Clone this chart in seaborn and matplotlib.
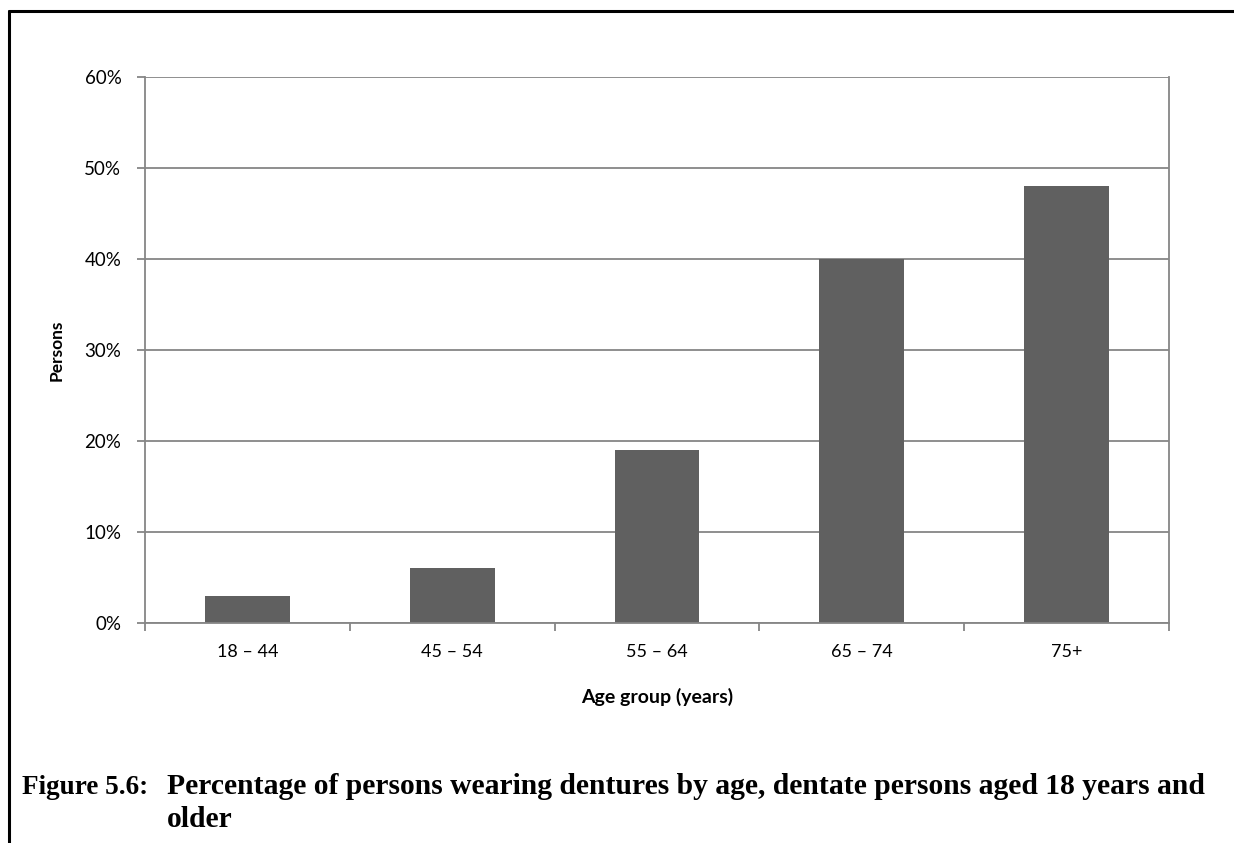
import matplotlib
matplotlib.use("Agg")
import matplotlib.pyplot as plt
import seaborn as sns
import pandas as pd
from matplotlib.lines import Line2D
from matplotlib.ticker import FuncFormatter, FixedLocator

categories = ["18 – 44", "45 – 54", "55 – 64", "65 – 74", "75+"]
values = [3.0, 6.0, 19.0, 40.0, 48.0]
yticks = [0, 10, 20, 30, 40, 50, 60]

sns.set_theme(style="white")
plt.rcParams["font.family"] = ["Lato", "DejaVu Sans"]

W, H = 1234, 843
fig = plt.figure(figsize=(W / 100, H / 100), dpi=100)
ax = fig.add_axes([145 / W, 1 - 623 / H, (1169 - 145) / W, (623 - 77) / H])

df = pd.DataFrame({"age": categories, "pct": values})
sns.barplot(data=df, x="age", y="pct", color="#606060", saturation=1,
            width=0.415, ax=ax, edgecolor="none")

grid_c = "#868686"
ax.set_ylim(0, 60)
ax.set_xlim(-0.5, len(categories) - 0.5)
ax.set_yticks(yticks)
ax.yaxis.set_major_formatter(FuncFormatter(lambda v, p: f"{int(v)}%"))
ax.grid(axis="y", color=grid_c, linewidth=1.3)
ax.set_axisbelow(True)
for s in ["left", "bottom", "right"]:
    ax.spines[s].set_visible(True)
    ax.spines[s].set_color(grid_c)
    ax.spines[s].set_linewidth(1.3)
ax.spines["top"].set_visible(False)

ax.set_xticks(range(len(categories)))
ax.set_xticklabels(categories)
ax.xaxis.set_minor_locator(FixedLocator([i - 0.5 for i in range(len(categories) + 1)]))
ax.tick_params(axis="x", which="major", length=0, pad=15, labelsize=13, colors="black")
ax.tick_params(axis="x", which="minor", length=6, width=1.3, color=grid_c, bottom=True)
ax.tick_params(axis="y", length=6, width=1.3, color=grid_c, left=True, pad=11,
               labelsize=13.5, labelcolor="black")
for lbl in ax.get_xticklabels() + ax.get_yticklabels():
    lbl.set_color("black")

ax.set_xlabel("Age group (years)", fontsize=14, fontweight="bold", labelpad=20, color="black")
ax.set_ylabel("Persons", fontsize=12.5, fontweight="bold", labelpad=14, color="black")

cap_font = ["Liberation Serif", "DejaVu Serif"]
fig.text(22 / W, 1 - 794 / H, "Figure 5.6:", family=cap_font, fontweight="bold",
         fontsize=19.5, color="black", va="baseline")
fig.text(167 / W, 1 - 794 / H,
         "Percentage of persons wearing dentures by age, dentate persons aged 18 years and",
         family=cap_font, fontweight="bold", fontsize=21.3, color="black", va="baseline")
fig.text(167 / W, 1 - 827 / H, "older", family=cap_font, fontweight="bold",
         fontsize=21.3, color="black", va="baseline")

fig.add_artist(Line2D([9 / W, 1.0], [1 - 11 / H, 1 - 11 / H], color="black", linewidth=2.2,
                      transform=fig.transFigure))
fig.add_artist(Line2D([9 / W, 9 / W], [1 - 11 / H, 0], color="black", linewidth=2.2,
                      transform=fig.transFigure))

fig.savefig("out.png", dpi=100, facecolor="white")
